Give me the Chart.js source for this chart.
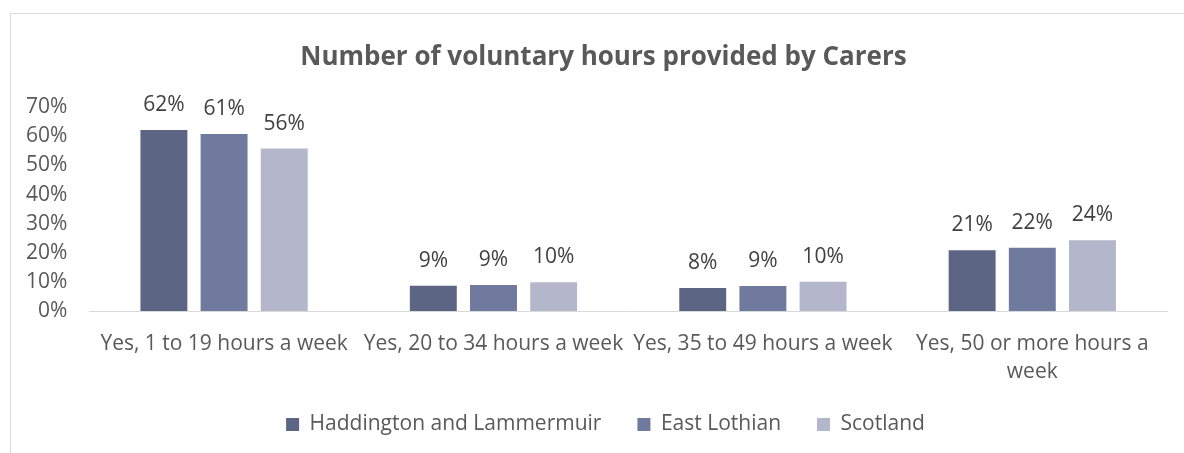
<!DOCTYPE html>
<html>
<head>
<meta charset="utf-8">
<script src="https://cdn.jsdelivr.net/npm/chart.js@4"></script>
<style>
  html, body { margin: 0; padding: 0; background: #fff; }
  .wrap { position: relative; width: 1184px; height: 453px; }
  .frame { position: absolute; left: 10px; top: 13px; right: -5px; bottom: -5px;
           border-left: 1px solid #d9d9d9; border-top: 1px solid #d9d9d9; }
  canvas { position: absolute; left: 0; top: 0; }
</style>
</head>
<body>
<div class="wrap">
  <div class="frame"></div>
  <canvas id="chart" width="1184" height="453"></canvas>
</div>
<script>
// chart data
const categories = [
  "Yes, 1 to 19 hours a week",
  "Yes, 20 to 34 hours a week",
  "Yes, 35 to 49 hours a week",
  ["Yes, 50 or more hours a", "week"]
];
const haddington = [62.2, 8.7, 7.9, 20.9];
const eastLothian = [60.8, 8.9, 8.6, 21.7];
const scotland = [55.8, 9.9, 10.1, 24.3];
const seriesNames = ["Haddington and Lammermuir", "East Lothian", "Scotland"];
const colours = ["#5c6584", "#707a9f", "#b4b7cb"];

const fontFamily = "'Open Sans', sans-serif";
const textGrey = "#595959";

// value labels above the bars
const barLabels = {
  id: "barLabels",
  afterLayout(chart) {
    // excel centres title and legend on the whole frame, which runs off to the right
    chart.titleBlock.left += 18;
    chart.titleBlock.right += 18;
    chart.legend.left += 20;
    chart.legend.right += 20;
  },
  afterDatasetsDraw(chart) {
    const ctx = chart.ctx;
    ctx.save();
    ctx.font = "21px " + fontFamily;
    ctx.fillStyle = "#404040";
    ctx.textAlign = "center";
    ctx.textBaseline = "middle";
    chart.data.datasets.forEach((ds, i) => {
      chart.getDatasetMeta(i).data.forEach((bar, j) => {
        ctx.fillText(Math.round(ds.data[j]) + "%", bar.x, bar.y - 25);
      });
    });
    ctx.restore();
  }
};

new Chart(document.getElementById("chart"), {
  type: "bar",
  data: {
    labels: categories,
    datasets: [
      { label: seriesNames[0], data: haddington, backgroundColor: colours[0] },
      { label: seriesNames[1], data: eastLothian, backgroundColor: colours[1] },
      { label: seriesNames[2], data: scotland, backgroundColor: colours[2] }
    ]
  },
  options: {
    responsive: false,
    animation: false,
    categoryPercentage: 0.67,
    barPercentage: 0.78,
    layout: { padding: { left: 4, right: 17, top: 20, bottom: 8 } },
    plugins: {
      title: {
        display: true,
        text: "Number of voluntary hours provided by Carers",
        color: textGrey,
        font: { family: fontFamily, size: 26, weight: "bold" },
        padding: { top: 22, bottom: 34 }
      },
      legend: {
        position: "bottom",
        labels: {
          color: textGrey,
          font: { family: fontFamily, size: 21 },
          boxWidth: 13,
          boxHeight: 13,
          padding: 36
        }
      },
      tooltip: { enabled: false }
    },
    scales: {
      x: {
        grid: { display: false, drawTicks: false },
        border: { color: "#d9d9d9", width: 1 },
        ticks: {
          color: textGrey,
          font: { family: fontFamily, size: 21, lineHeight: 1.38 },
          maxRotation: 0,
          autoSkip: false,
          padding: 18
        },
        afterFit(scale) { scale.height -= 27; }
      },
      y: {
        min: 0,
        max: 70,
        grid: { display: false, drawTicks: false },
        border: { display: false },
        ticks: {
          stepSize: 10,
          color: textGrey,
          font: { family: fontFamily, size: 21 },
          padding: 22,
          callback: v => v + "%"
        }
      }
    }
  },
  plugins: [barLabels]
});
</script>
</body>
</html>
